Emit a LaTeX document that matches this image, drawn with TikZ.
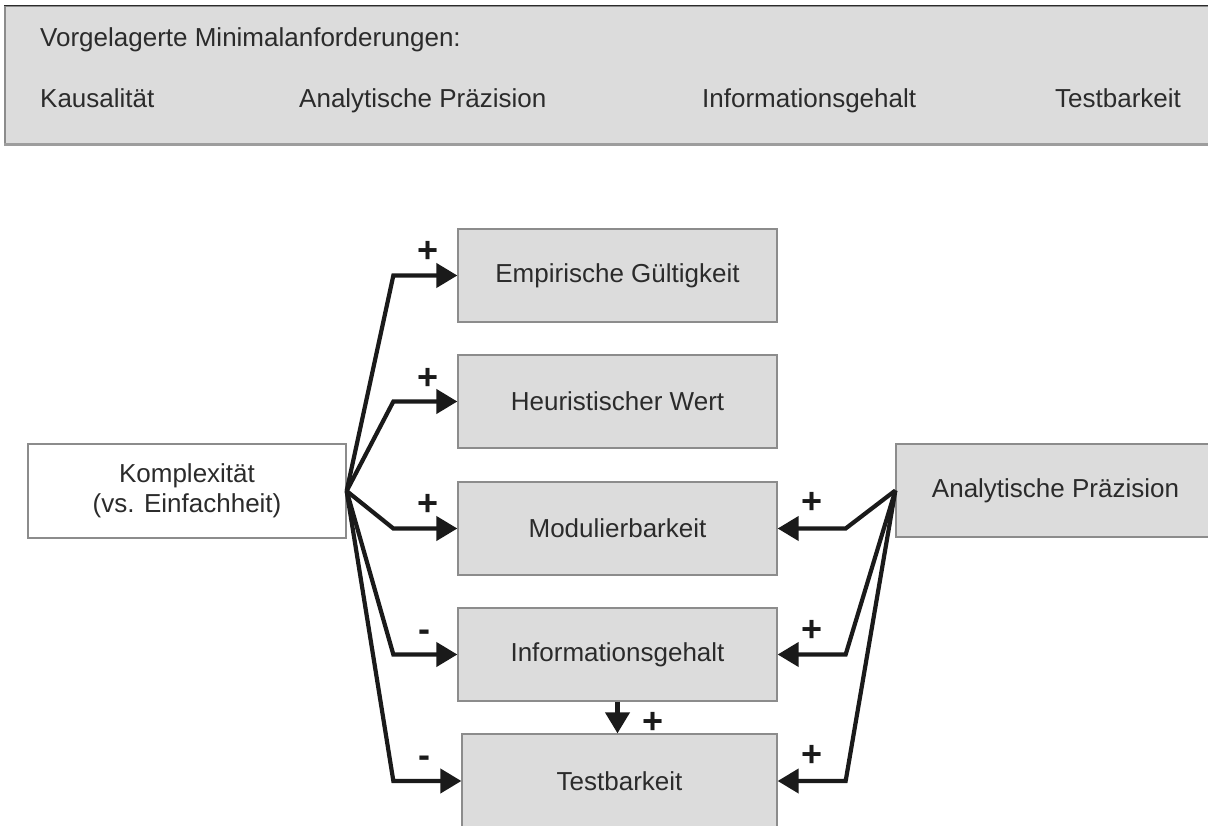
\documentclass[tikz,border=0pt]{standalone}
\usepackage{fontspec}
\setmainfont{Liberation Sans}
\usetikzlibrary{arrows.meta}
\definecolor{boxgray}{HTML}{DCDCDC}
\definecolor{edgegray}{HTML}{8C8C8C}
\definecolor{inkgray}{HTML}{2B2B2B}
\definecolor{arrowink}{HTML}{1A1A1A}

\begin{document}
\begin{tikzpicture}[x=1pt,y=-1pt,
  box/.style={draw=edgegray, line width=1.3pt, fill=boxgray,
    minimum width=319pt, minimum height=93pt, inner sep=0pt,
    text=inkgray, font=\fontsize{26}{30}\selectfont, align=center},
  link/.style={draw=arrowink, line width=4.2pt,
    -{Triangle[length=21pt,width=24pt]}},
  sign/.style={text=arrowink, font=\fontsize{36}{40}\selectfont\bfseries,
    anchor=base, inner sep=0pt},
  req/.style={text=inkgray, font=\fontsize{26}{30}\selectfont,
    anchor=base west, inner sep=0pt}
]
\useasboundingbox (0,0) rectangle (1208,826);

% requirements banner
\node[draw=edgegray, line width=1.3pt, fill=boxgray, minimum width=1210pt,
      minimum height=138pt, inner sep=0pt] (banner) at (610,75) {};
\draw[inkgray, line width=1.3pt] (banner.north west) -- (banner.north east);
\draw[edgegray!85, line width=2.6pt] (banner.south west) -- (banner.south east);
\node[req] (title) at (40,47) {Vorgelagerte Minimalanforderungen:};
\node[req] (r1) at (40,108) {Kausalität};
\node[req] (r2) at (299,108) {Analytische Präzision};
\node[req] (r3) at (702,108) {Informationsgehalt};
\node[req] (r4) at (1055,108) {Testbarkeit};

% criteria
\node[box] (E) at (617.5,275.5) {Empirische Gültigkeit};
\node[box] (H) at (617.5,401.5) {Heuristischer Wert};
\node[box] (M) at (617.5,528.5) {Modulierbarkeit};
\node[box] (I) at (617.5,654.5) {Informationsgehalt};
\node[box, minimum width=315pt, minimum height=94pt] (T) at (619.5,781) {Testbarkeit};

% sources
\node[box, fill=white, minimum width=318pt, minimum height=94pt] (K) at (187,491)
  {Komplexität\\(vs. Einfachheit)};
\node[box] (A) at (1055.5,490.5) {Analytische Präzision};

% effects of complexity
\draw[link] (K.east) -- ([xshift=-64pt]E.west) -- (E.west);
\draw[link] (K.east) -- ([xshift=-64pt]H.west) -- (H.west);
\draw[link] (K.east) -- ([xshift=-64pt]M.west) -- (M.west);
\draw[link] (K.east) -- ([xshift=-64pt]I.west) -- (I.west);
\draw[link] (K.east) -- ([xshift=-68pt]T.west) -- (T.west);

% effects of analytical precision
\draw[link] (A.west) -- ([xshift=68pt]M.east) -- (M.east);
\draw[link] (A.west) -- ([xshift=68pt]I.east) -- (I.east);
\draw[link] (A.west) -- ([xshift=68pt]T.east) -- (T.east);

% information content -> testability
\draw[link] (I.south) -- (I.south |- T.north);

% signs
\node[sign] (sE) at (428,263) {+};
\node[sign] (sH) at (428,389) {+};
\node[sign] (sM) at (428,515) {+};
\node[sign] (sI) at (424,641.7) {-};
\node[sign] (sT) at (424,767.7) {-};
\node[sign] (aM) at (812,513) {+};
\node[sign] (aI) at (812,641) {+};
\node[sign] (aT) at (812,766) {+};
\node[sign] (iT) at (653,733) {+};
\end{tikzpicture}
\end{document}
